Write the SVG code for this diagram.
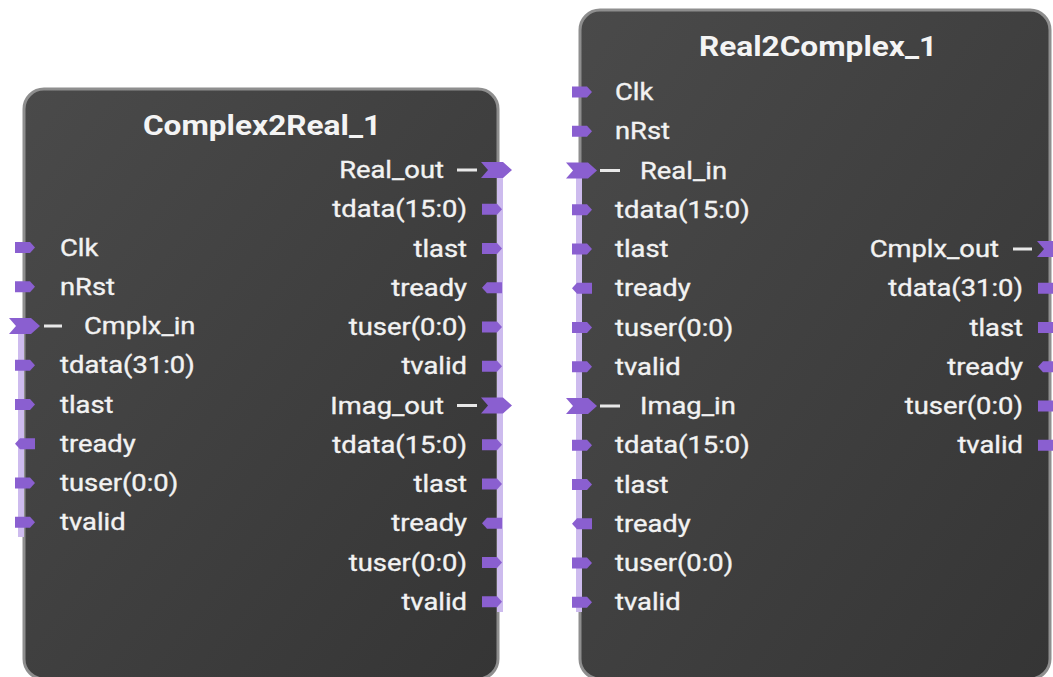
<svg xmlns="http://www.w3.org/2000/svg" width="1053" height="677" viewBox="0 0 1053 677">
<style>
.box{fill:url(#bg);stroke:#8e8e8e;stroke-width:3}
.title{font-family:Roboto,"Liberation Sans",sans-serif;font-weight:bold;font-size:28px;fill:#f4f4f4;text-anchor:middle}
.lbl{font-family:Roboto,"Liberation Sans",sans-serif;font-size:23px;fill:#f2f2f2;stroke:#f2f2f2;stroke-width:0.35}
.r{text-anchor:end}
.pin{fill:#8a5fd0}
.bus{fill:#cdbbee}
.dash{stroke:#e8e8e8;stroke-width:3}
</style>
<defs>
<linearGradient id="bg" x1="0" y1="0" x2="1" y2="1">
<stop offset="0" stop-color="#4a4a4a"/>
<stop offset="1" stop-color="#353535"/>
</linearGradient>
<path id="pr" class="pin" d="M0,-5.5 H15 L20,0 L15,5.5 H0 Z"/>
<path id="pl" class="pin" d="M0,0 L5,-5.5 H20 V5.5 H5 Z"/>
<path id="ch" class="pin" d="M0,-8 H22 L31,0 L22,8 H0 L7,0 Z"/>
</defs>
<rect width="1053" height="677" fill="#ffffff"/>
<g id="connectors"></g>
<g id="Complex2Real_1">
<rect class="box" x="24" y="89" width="474" height="590" rx="20"/>
<text class="title" transform="translate(262,135) scale(1.13,1)">Complex2Real_1</text>
<rect class="bus" x="18" y="323" width="6" height="214"/>
<rect class="bus" x="497" y="175" width="6" height="437"/>
<use href="#pr" x="15" y="247.5"/><text class="lbl" transform="translate(60,255.5) scale(1.19,1)">Clk</text>
<use href="#pr" x="15" y="286.75"/><text class="lbl" transform="translate(60,294.75) scale(1.19,1)">nRst</text>
<use href="#ch" x="9" y="326"/><line class="dash" x1="44" y1="326" x2="62" y2="326"/><text class="lbl" transform="translate(84,334) scale(1.19,1)">Cmplx_in</text>
<use href="#pr" x="15" y="365.25"/><text class="lbl" transform="translate(60,373.25) scale(1.19,1)">tdata(31:0)</text>
<use href="#pr" x="15" y="404.5"/><text class="lbl" transform="translate(60,412.5) scale(1.19,1)">tlast</text>
<use href="#pl" x="15" y="443.75"/><text class="lbl" transform="translate(60,451.75) scale(1.19,1)">tready</text>
<use href="#pr" x="15" y="483"/><text class="lbl" transform="translate(60,491) scale(1.19,1)">tuser(0:0)</text>
<use href="#pr" x="15" y="522.25"/><text class="lbl" transform="translate(60,530.25) scale(1.19,1)">tvalid</text>
<use href="#ch" x="481" y="170"/><line class="dash" x1="457" y1="170" x2="477" y2="170"/><text class="lbl r" transform="translate(444,178) scale(1.19,1)">Real_out</text>
<use href="#pr" x="482" y="209.25"/><text class="lbl r" transform="translate(467,217.25) scale(1.19,1)">tdata(15:0)</text>
<use href="#pr" x="482" y="248.5"/><text class="lbl r" transform="translate(467,256.5) scale(1.19,1)">tlast</text>
<use href="#pl" x="482" y="287.75"/><text class="lbl r" transform="translate(467,295.75) scale(1.19,1)">tready</text>
<use href="#pr" x="482" y="327"/><text class="lbl r" transform="translate(467,335) scale(1.19,1)">tuser(0:0)</text>
<use href="#pr" x="482" y="366.25"/><text class="lbl r" transform="translate(467,374.25) scale(1.19,1)">tvalid</text>
<use href="#ch" x="481" y="405.5"/><line class="dash" x1="457" y1="405.5" x2="477" y2="405.5"/><text class="lbl r" transform="translate(444,413.5) scale(1.19,1)">Imag_out</text>
<use href="#pr" x="482" y="444.75"/><text class="lbl r" transform="translate(467,452.75) scale(1.19,1)">tdata(15:0)</text>
<use href="#pr" x="482" y="484"/><text class="lbl r" transform="translate(467,492) scale(1.19,1)">tlast</text>
<use href="#pl" x="482" y="523.25"/><text class="lbl r" transform="translate(467,531.25) scale(1.19,1)">tready</text>
<use href="#pr" x="482" y="562.5"/><text class="lbl r" transform="translate(467,570.5) scale(1.19,1)">tuser(0:0)</text>
<use href="#pr" x="482" y="601.75"/><text class="lbl r" transform="translate(467,609.75) scale(1.19,1)">tvalid</text>
</g>
<g id="Real2Complex_1">
<rect class="box" x="580" y="10" width="470" height="669" rx="20"/>
<text class="title" transform="translate(818,56) scale(1.13,1)">Real2Complex_1</text>
<rect class="bus" x="576" y="175" width="6" height="437"/>
<use href="#pr" x="572" y="92"/><text class="lbl" transform="translate(615,100) scale(1.19,1)">Clk</text>
<use href="#pr" x="572" y="131.25"/><text class="lbl" transform="translate(615,139.25) scale(1.19,1)">nRst</text>
<use href="#ch" x="566" y="170.5"/><line class="dash" x1="600" y1="170.5" x2="620" y2="170.5"/><text class="lbl" transform="translate(640,178.5) scale(1.19,1)">Real_in</text>
<use href="#pr" x="572" y="209.75"/><text class="lbl" transform="translate(615,217.75) scale(1.19,1)">tdata(15:0)</text>
<use href="#pr" x="572" y="249"/><text class="lbl" transform="translate(615,257) scale(1.19,1)">tlast</text>
<use href="#pl" x="572" y="288.25"/><text class="lbl" transform="translate(615,296.25) scale(1.19,1)">tready</text>
<use href="#pr" x="572" y="327.5"/><text class="lbl" transform="translate(615,335.5) scale(1.19,1)">tuser(0:0)</text>
<use href="#pr" x="572" y="366.75"/><text class="lbl" transform="translate(615,374.75) scale(1.19,1)">tvalid</text>
<use href="#ch" x="566" y="406"/><line class="dash" x1="600" y1="406" x2="620" y2="406"/><text class="lbl" transform="translate(640,414) scale(1.19,1)">Imag_in</text>
<use href="#pr" x="572" y="445.25"/><text class="lbl" transform="translate(615,453.25) scale(1.19,1)">tdata(15:0)</text>
<use href="#pr" x="572" y="484.5"/><text class="lbl" transform="translate(615,492.5) scale(1.19,1)">tlast</text>
<use href="#pl" x="572" y="523.75"/><text class="lbl" transform="translate(615,531.75) scale(1.19,1)">tready</text>
<use href="#pr" x="572" y="563"/><text class="lbl" transform="translate(615,571) scale(1.19,1)">tuser(0:0)</text>
<use href="#pr" x="572" y="602.25"/><text class="lbl" transform="translate(615,610.25) scale(1.19,1)">tvalid</text>
<use href="#ch" x="1037" y="249"/><line class="dash" x1="1013" y1="249" x2="1032" y2="249"/><text class="lbl r" transform="translate(999,257) scale(1.19,1)">Cmplx_out</text>
<use href="#pr" x="1038" y="288.25"/><text class="lbl r" transform="translate(1023,296.25) scale(1.19,1)">tdata(31:0)</text>
<use href="#pr" x="1038" y="327.5"/><text class="lbl r" transform="translate(1023,335.5) scale(1.19,1)">tlast</text>
<use href="#pl" x="1038" y="366.75"/><text class="lbl r" transform="translate(1023,374.75) scale(1.19,1)">tready</text>
<use href="#pr" x="1038" y="406"/><text class="lbl r" transform="translate(1023,414) scale(1.19,1)">tuser(0:0)</text>
<use href="#pr" x="1038" y="445.25"/><text class="lbl r" transform="translate(1023,453.25) scale(1.19,1)">tvalid</text>
</g>
</svg>
